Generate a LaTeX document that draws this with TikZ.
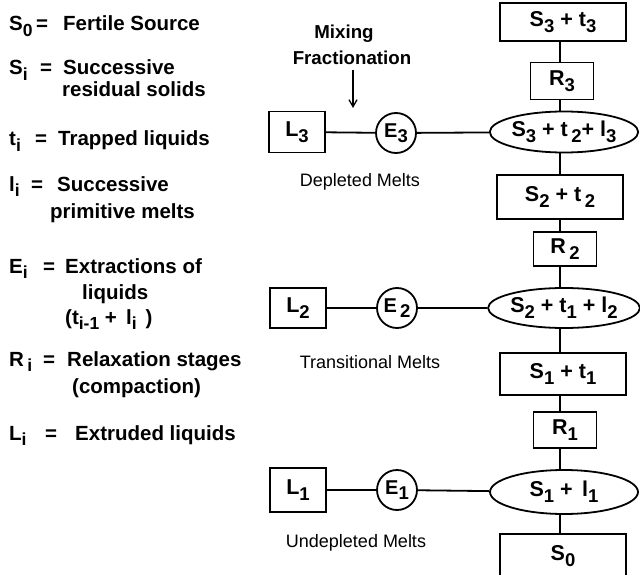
\documentclass[tikz,border=0pt]{standalone}
\usepackage{fontspec}
\setmainfont{Liberation Sans}
\usetikzlibrary{arrows.meta,shapes.geometric}
\newcommand\dn[1]{\raisebox{-0.5ex}{\fontsize{18.5}{18.5}\selectfont #1}}
\newcommand\dl[1]{\raisebox{-0.5ex}{\fontsize{17.5}{17.5}\selectfont #1}}
\tikzset{
  lg/.style={anchor=base west,inner sep=0pt,font=\fontsize{20.5}{20.5}\selectfont\bfseries},
  lbl/.style={inner sep=0pt,font=\fontsize{18}{18}\selectfont},
  stbox/.style={draw,line width=1.8pt,fill=white,minimum width=126pt,minimum height=40pt,inner sep=0pt,font=\fontsize{21.5}{21.5}\selectfont\bfseries},
  rbox/.style={stbox,minimum width=63pt,minimum height=36pt},
  ell/.style={draw,ellipse,line width=1.8pt,fill=white,minimum width=148pt,minimum height=42pt,inner sep=0pt,font=\fontsize{21.5}{21.5}\selectfont\bfseries},
  lbox/.style={stbox,minimum width=56pt,minimum height=41pt},
  ecirc/.style={draw,circle,line width=1.8pt,fill=white,minimum size=40pt,inner sep=0pt,font=\fontsize{20}{20}\selectfont\bfseries},
  conn/.style={line width=1.8pt}
}
\begin{document}
\begin{tikzpicture}[x=1pt,y=-1pt]
\useasboundingbox (0,0) rectangle (640,575);
% legend
\node[lg] (a1) at (9,31) {S\dl{0}};
\node[lg] (a2) at (36,31) {=};
\node[lg] (a3) at (63,31) {Fertile Source};
\node[lg] (b1) at (9,75) {S\dl{i}};
\node[lg] (b2) at (40,75) {=};
\node[lg] (b3) at (63,75) {Successive};
\node[lg] (b4) at (62,97) {residual solids};
\node[lg] (c1) at (9,146) {t\dl{i}};
\node[lg] (c2) at (35,146) {=};
\node[lg] (c3) at (58,146) {Trapped liquids};
\node[lg] (d1) at (9,191) {l\dl{i}};
\node[lg] (d2) at (31,191) {=};
\node[lg] (d3) at (57,191) {Successive};
\node[lg] (d4) at (50,218) {primitive melts};
\node[lg] (e1l) at (9,273) {E\dl{i}};
\node[lg] (e2l) at (43,273) {=};
\node[lg] (e3l) at (65,273) {Extractions of};
\node[lg] (e4l) at (82,299) {liquids};
\node[lg] (e5l) at (65,324) {(t\dl{i-1} + \,l\dl{i} \,)};
\node[lg] (f1) at (9,366) {R\,\dl{i}};
\node[lg] (f2) at (43,366) {=};
\node[lg] (f3) at (67,366) {Relaxation stages};
\node[lg] (f4) at (72,393) {(compaction)};
\node[lg] (g1) at (9,440) {L\dl{i}};
\node[lg] (g2) at (45,440) {=};
\node[lg] (g3) at (75,440) {Extruded liquids};
% top label + arrow
\node[lg,anchor=center,font=\fontsize{18.7}{18.7}\selectfont\bfseries] (mx) at (344,34) {Mixing};
\node[lg,anchor=center,font=\fontsize{18.7}{18.7}\selectfont\bfseries] (fr) at (352,58) {Fractionation};
\coordinate (arA) at (353,70);
\coordinate (arB) at (353,108);
\draw[line width=1.3pt,-{Straight Barb[length=7pt,width=8pt]}] (arA) -- (arB);
% right column
\node[stbox,minimum height=38pt] (s3t3) at (563,22) {S\dn{3} + t\dn{3}};
\node[rbox,minimum height=37pt] (r3) at (562,81) {R\dn{3}};
\node[ell,minimum height=41pt] (x3) at (564,132) {S\dn{3} + t\,\dn{2}+ l\dn{3}};
\node[stbox,minimum height=44pt] (s2t2) at (560,197) {S\dn{2} + t\,\dn{2}};
\node[rbox,minimum height=34pt] (r2) at (565,249) {R\,\dn{2}};
\node[ell,minimum height=40pt] (x2) at (564,308) {S\dn{2} + t\dn{1} + l\dn{2}};
\node[stbox,minimum height=42pt] (s1t1) at (563,374) {S\dn{1} + t\dn{1}};
\node[rbox] (r1) at (565,430) {R\dn{1}};
\node[ell,minimum height=44pt] (x1) at (564,492) {S\dn{1} +\, l\dn{1}};
\node[stbox,minimum height=44pt] (s0) at (563,556) {S\dn{0}};
\foreach \p/\q in {s3t3/r3,r3/x3,x3/s2t2,s2t2/r2,r2/x2,x2/s1t1,s1t1/r1,r1/x1,x1/s0}
  \draw[conn] (\p.south -| 560,0) -- (\q.north -| 560,0);
% left chain
\node[lbox] (l3) at (297,132) {L\dn{3}};
\node[ecirc] (e3) at (396,133) {E\dn{3}};
\node[lbox,minimum height=40pt] (l2) at (298,308) {L\dn{2}};
\node[ecirc] (e2) at (397,308) {E\,\dn{2}};
\node[lbox,minimum height=44pt] (l1) at (298,490) {L\dn{1}};
\node[ecirc] (e1) at (397,490) {E\dn{1}};
\draw[conn] (l3) -- (e3);
\draw[conn] (e3) -- (x3);
\draw[conn] (l2) -- (e2);
\draw[conn] (e2) -- (x2);
\draw[conn] (l1) -- (e1);
\draw[conn] (e1) -- (x1);
% captions
\node[lbl] (dm) at (360,182) {Depleted Melts};
\node[lbl] (tm) at (370,362) {Transitional Melts};
\node[lbl] (um) at (356,543) {Undepleted Melts};
\end{tikzpicture}
\end{document}
